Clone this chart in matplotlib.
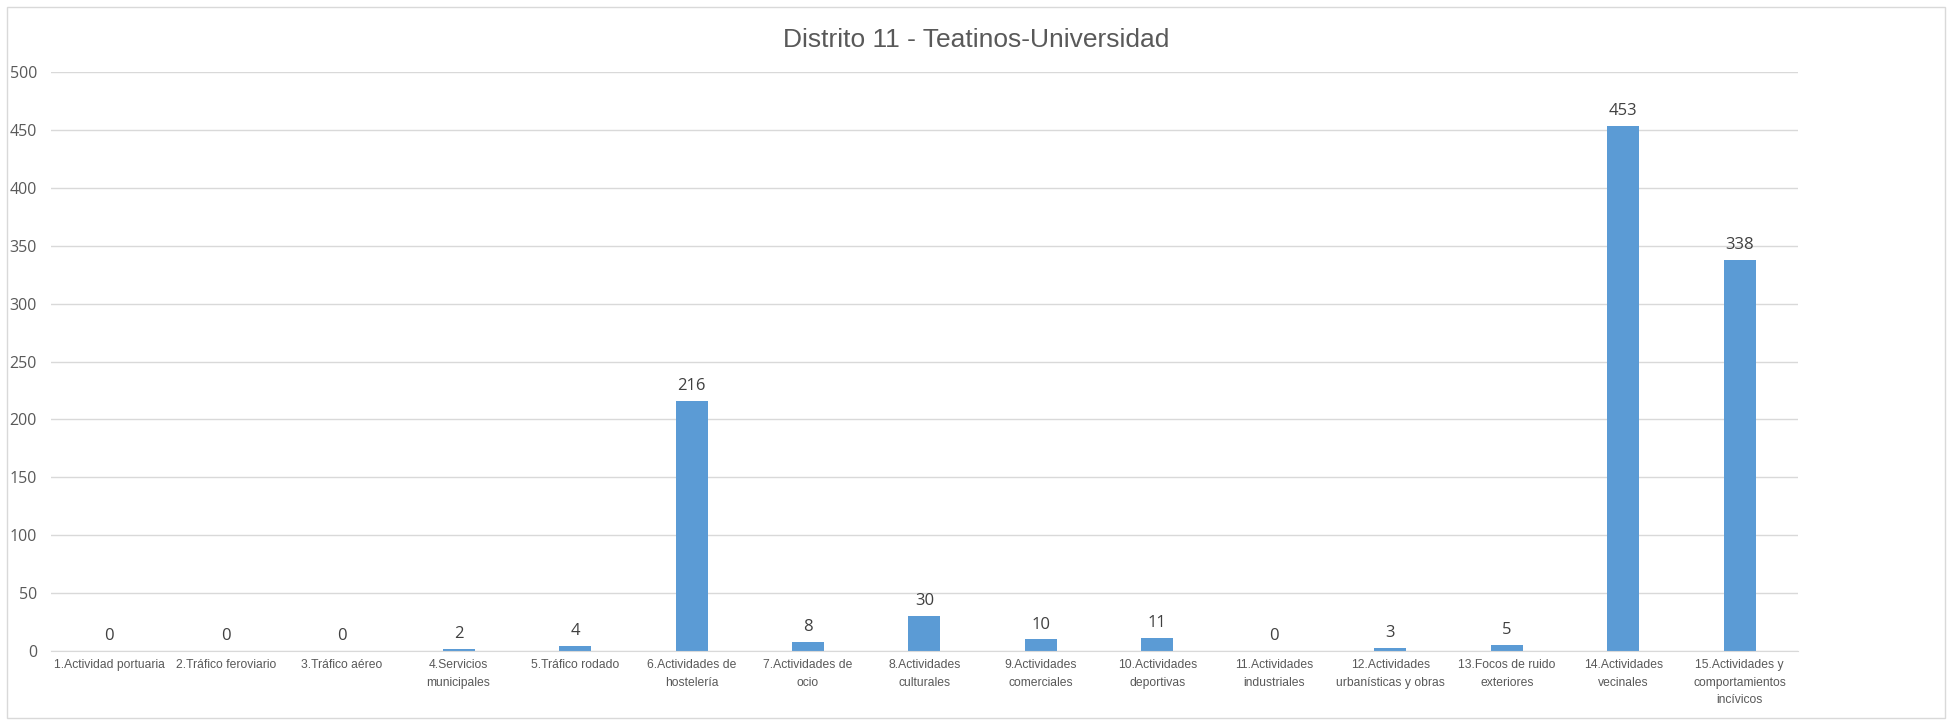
import matplotlib
matplotlib.use("Agg")
import matplotlib.pyplot as plt
from matplotlib.patches import Rectangle

# datos del distrito
categorias = [
    "1.Actividad portuaria",
    "2.Tráfico feroviario",
    "3.Tráfico aéreo",
    "4.Servicios\nmunicipales",
    "5.Tráfico rodado",
    "6.Actividades de\nhostelería",
    "7.Actividades de\nocio",
    "8.Actividades\nculturales",
    "9.Actividades\ncomerciales",
    "10.Actividades\ndeportivas",
    "11.Actividades\nindustriales",
    "12.Actividades\nurbanísticas y obras",
    "13.Focos de ruido\nexteriores",
    "14.Actividades\nvecinales",
    "15.Actividades y\ncomportamientos\nincívicos",
]
valores = [0, 0, 0, 2, 4, 216, 8, 30, 10, 11, 0, 3, 5, 453, 338]
yticks = [0, 50, 100, 150, 200, 250, 300, 350, 400, 450, 500]

gris = "#595959"
azul = "#5B9BD5"
num_font = ["Open Sans", "DejaVu Sans"]

fig = plt.figure(figsize=(19.52, 7.25), dpi=100)
ax = fig.add_axes([0.0261, 0.102, 0.895, 0.7987])

x = range(len(valores))
bars = ax.bar(x, valores, width=0.275, color=azul, zorder=3)

for i, v in enumerate(valores):
    ax.annotate(str(v), (i, v), xytext=(0, 5), textcoords="offset points",
                ha="center", va="bottom", fontsize=12, color="#404040",
                family=num_font)

ax.set_xlim(-0.5, len(valores) - 0.5)
ax.set_ylim(0, 500)
ax.set_yticks(yticks)
ax.set_yticklabels([str(t) for t in yticks], fontsize=11.5, color=gris,
                   family=num_font)
ax.set_xticks(list(x))
ax.set_xticklabels(categorias, fontsize=8.7, color=gris, linespacing=1.6,
                   family=["Liberation Sans Narrow", "Liberation Sans", "DejaVu Sans"])
ax.tick_params(axis="y", length=0, pad=10)
ax.tick_params(axis="x", length=0, pad=6)

ax.grid(axis="y", color="#D9D9D9", linewidth=1, zorder=0)
for s in ["top", "right", "left"]:
    ax.spines[s].set_visible(False)
ax.spines["bottom"].set_color("#D9D9D9")
ax.spines["bottom"].set_zorder(4)

fig.text(0.5, 0.945, "Distrito 11 - Teatinos-Universidad", ha="center", va="center",
         fontsize=19, color=gris, family=["Liberation Sans", "DejaVu Sans"])

# marco del grafico
fig.patches.append(Rectangle((7 / 1952, 7 / 725), 1938 / 1952, 711 / 725,
                             transform=fig.transFigure, fill=False,
                             edgecolor="#D9D9D9", linewidth=1))

fig.savefig("out.png", dpi=100, facecolor="white")
